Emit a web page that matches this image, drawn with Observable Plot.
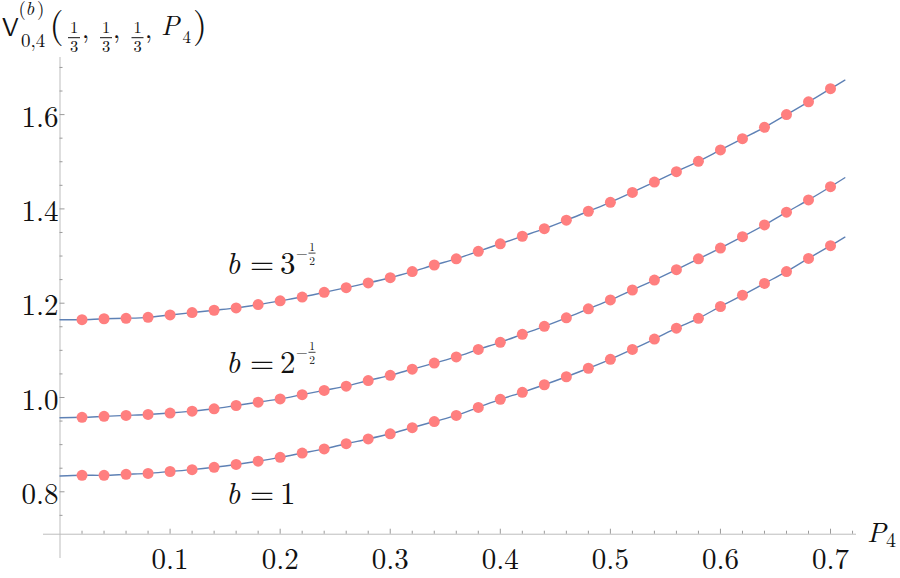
<!DOCTYPE html>
<html>
<head>
<meta charset="utf-8">
<script src="https://cdn.jsdelivr.net/npm/d3@7"></script>
<script src="https://cdn.jsdelivr.net/npm/@observablehq/plot@0.6"></script>
<style>
  html, body { margin: 0; padding: 0; background: #fff; }
</style>
</head>
<body>
<script>
// ---------- data ----------
const P4 = [0.02, 0.04, 0.06, 0.08, 0.10, 0.12, 0.14, 0.16, 0.18, 0.20,
            0.22, 0.24, 0.26, 0.28, 0.30, 0.32, 0.34, 0.36, 0.38, 0.40,
            0.42, 0.44, 0.46, 0.48, 0.50, 0.52, 0.54, 0.56, 0.58, 0.60,
            0.62, 0.64, 0.66, 0.68, 0.70];

const seriesNames = ["b = 1", "b = 2^-1/2", "b = 3^-1/2"];

const valuesB1 = [0.835, 0.835, 0.837, 0.839, 0.843, 0.847, 0.852, 0.858, 0.865, 0.873,
                  0.882, 0.891, 0.902, 0.912, 0.923, 0.936, 0.949, 0.962, 0.979, 0.996,
                  1.011, 1.027, 1.044, 1.062, 1.081, 1.102, 1.124, 1.147, 1.168, 1.193,
                  1.217, 1.242, 1.267, 1.295, 1.322];

const valuesB2 = [0.958, 0.960, 0.962, 0.964, 0.967, 0.971, 0.976, 0.983, 0.990, 0.997,
                  1.006, 1.015, 1.024, 1.036, 1.047, 1.060, 1.073, 1.086, 1.102, 1.117,
                  1.134, 1.151, 1.169, 1.188, 1.207, 1.228, 1.249, 1.271, 1.294, 1.317,
                  1.341, 1.366, 1.393, 1.419, 1.447];

const valuesB3 = [1.165, 1.167, 1.168, 1.170, 1.175, 1.180, 1.185, 1.190, 1.197, 1.205,
                  1.213, 1.223, 1.233, 1.243, 1.254, 1.267, 1.281, 1.294, 1.310, 1.326,
                  1.342, 1.358, 1.376, 1.395, 1.414, 1.435, 1.457, 1.479, 1.501, 1.525,
                  1.549, 1.573, 1.600, 1.627, 1.655];

// the fitted curves continue past the sampled points
const curveStartP = 0;
const curveStartValues = [0.8335, 0.957, 1.1648];
const curveEndP = 0.713;
const curveEndValues = [1.340, 1.466, 1.673];

const xTickValues = [0.1, 0.2, 0.3, 0.4, 0.5, 0.6, 0.7];
const xTickLabels = ["0.1", "0.2", "0.3", "0.4", "0.5", "0.6", "0.7"];
const xMinorTicks = [0.02, 0.04, 0.06, 0.08, 0.12, 0.14, 0.16, 0.18, 0.22, 0.24, 0.26, 0.28,
                     0.32, 0.34, 0.36, 0.38, 0.42, 0.44, 0.46, 0.48, 0.52, 0.54, 0.56, 0.58,
                     0.62, 0.64, 0.66, 0.68, 0.72];
const yTickValues = [0.8, 1.0, 1.2, 1.4, 1.6];
const yTickLabels = ["0.8", "1.0", "1.2", "1.4", "1.6"];
const yMinorTicks = [0.75, 0.85, 0.9, 0.95, 1.05, 1.1, 1.15, 1.25, 1.3, 1.35,
                     1.45, 1.5, 1.55, 1.65, 1.7];

// ---------- tables ----------
const allSeries = [valuesB1, valuesB2, valuesB3];
const points = [];
allSeries.forEach((vals, s) => vals.forEach((v, i) => points.push({P: P4[i], v, b: seriesNames[s]})));
const curves = [];
allSeries.forEach((vals, s) => {
  curves.push({P: curveStartP, v: curveStartValues[s], b: seriesNames[s]});
  vals.forEach((v, i) => curves.push({P: P4[i], v, b: seriesNames[s]}));
  curves.push({P: curveEndP, v: curveEndValues[s], b: seriesNames[s]});
});

// ---------- layout ----------
const xLo = -0.015, xHi = 0.7236;   // extent of the horizontal axis line
const yLo = 0.6585, yHi = 1.7211;   // extent of the vertical axis line
const yCross = 0.71;                // where the horizontal axis crosses
const serif = "Latin Modern Roman";
const sans = "Latin Modern Sans";
const axisColor = "#bdbdbd";
const tickColor = "#9a9a9a";
const ink = "#111";

const svg = Plot.plot({
  width: 900,
  height: 578,
  marginLeft: 43,
  marginRight: 44,
  marginTop: 57,
  marginBottom: 20,
  x: {domain: [xLo, xHi], axis: null},
  y: {domain: [yLo, yHi], axis: null},
  marks: [
    // axes
    Plot.ruleX([0], {y1: yLo, y2: yHi, stroke: axisColor, strokeWidth: 1}),
    Plot.ruleY([yCross], {x1: xLo, x2: xHi, stroke: axisColor, strokeWidth: 1}),
    // x ticks (pointing up)
    Plot.ruleX(xTickValues, {y1: yCross, y2: yCross, insetTop: -5, stroke: tickColor}),
    Plot.ruleX(xMinorTicks, {y1: yCross, y2: yCross, insetTop: -3, stroke: tickColor}),
    // y ticks (pointing right)
    Plot.ruleY(yTickValues, {x1: 0, x2: 0, insetRight: -5, stroke: tickColor}),
    Plot.ruleY(yMinorTicks, {x1: 0, x2: 0, insetRight: -3, stroke: tickColor}),
    // tick labels
    Plot.text(xTickValues, {x: d => d, y: yCross, dy: 25.5, text: (d, i) => xTickLabels[i],
      fontSize: 29, fontFamily: serif, fill: ink}),
    Plot.text(yTickValues, {x: 0, y: d => d, dx: -1.5, dy: 3, text: (d, i) => yTickLabels[i],
      textAnchor: "end", fontSize: 29, fontFamily: serif, fill: ink}),
    // curves and points
    Plot.line(curves, {x: "P", y: "v", z: "b", stroke: "#5e81b5", strokeWidth: 1.4, curve: "catmull-rom"}),
    Plot.dot(points, {x: "P", y: "v", r: 5.5, fill: "#ff7f7f", stroke: "none"})
  ]
});
document.body.append(svg);

// ---------- math-style annotations ----------
const root = d3.select(svg).append("g").attr("fill", ink).attr("text-anchor", "start");
function txt(x, y, s, size, family, opts = {}) {
  const t = root.append("text").attr("x", x).attr("y", y).attr("font-size", size)
    .attr("font-family", family).attr("text-anchor", opts.anchor || "start").text(s);
  if (opts.italic) t.attr("font-style", "italic");
  return t;
}
function bar(x1, x2, y, w) {
  root.append("line").attr("x1", x1).attr("x2", x2).attr("y1", y).attr("y2", y)
    .attr("stroke", ink).attr("stroke-width", w);
}
function frac(cx, barY, num, den, size, barW) {
  txt(cx, barY - 5, num, size, serif, {anchor: "middle"});
  bar(cx - barW / 2, cx + barW / 2, barY, 1);
  txt(cx, barY + 14, den, size, serif, {anchor: "middle"});
}

// y-axis title: V^{(b)}_{0,4}(1/3, 1/3, 1/3, P_4)
txt(2, 36, "V", 25, sans);
txt(18.5, 15, "(", 19, serif);
txt(25.5, 15, "b", 19, serif, {italic: true});
txt(37, 15, ")", 19, serif);
txt(21, 46.5, "0,4", 19, serif);
txt(49.5, 37, "(", 36, serif);
frac(74, 37.7, "1", "3", 16.5, 12);
txt(82, 38, ",", 26, serif);
frac(106, 37.7, "1", "3", 16.5, 12);
txt(113, 38, ",", 26, serif);
frac(137.5, 37.7, "1", "3", 16.5, 12);
txt(145, 38, ",", 26, serif);
txt(161, 35, "P", 27, serif, {italic: true});
txt(182.5, 43, "4", 17, serif);
txt(193, 37, ")", 36, serif);

// x-axis title
txt(867, 541.7, "P", 28, serif, {italic: true});
txt(886, 546.7, "4", 20, serif);

// curve labels
function curveLabel(x0, base, digit, sup) {
  txt(x0 - 1, base, "b", 31, serif, {italic: true});
  txt(x0 + 23, base, "=", 31, serif);
  txt(x0 + 53, base, digit, 31, serif);
  if (sup) {
    txt(x0 + 69, base - 16, "\u2212", 15, serif);
    txt(x0 + 85, base - 23, "1", 11.5, serif, {anchor: "middle"});
    bar(x0 + 81.5, x0 + 88.5, base - 20.7, 0.8);
    txt(x0 + 85, base - 9, "2", 11.5, serif, {anchor: "middle"});
  }
}
curveLabel(227, 273.8, "3", true);
curveLabel(227, 373, "2", true);
curveLabel(227, 504.3, "1", false);
</script>
</body>
</html>
